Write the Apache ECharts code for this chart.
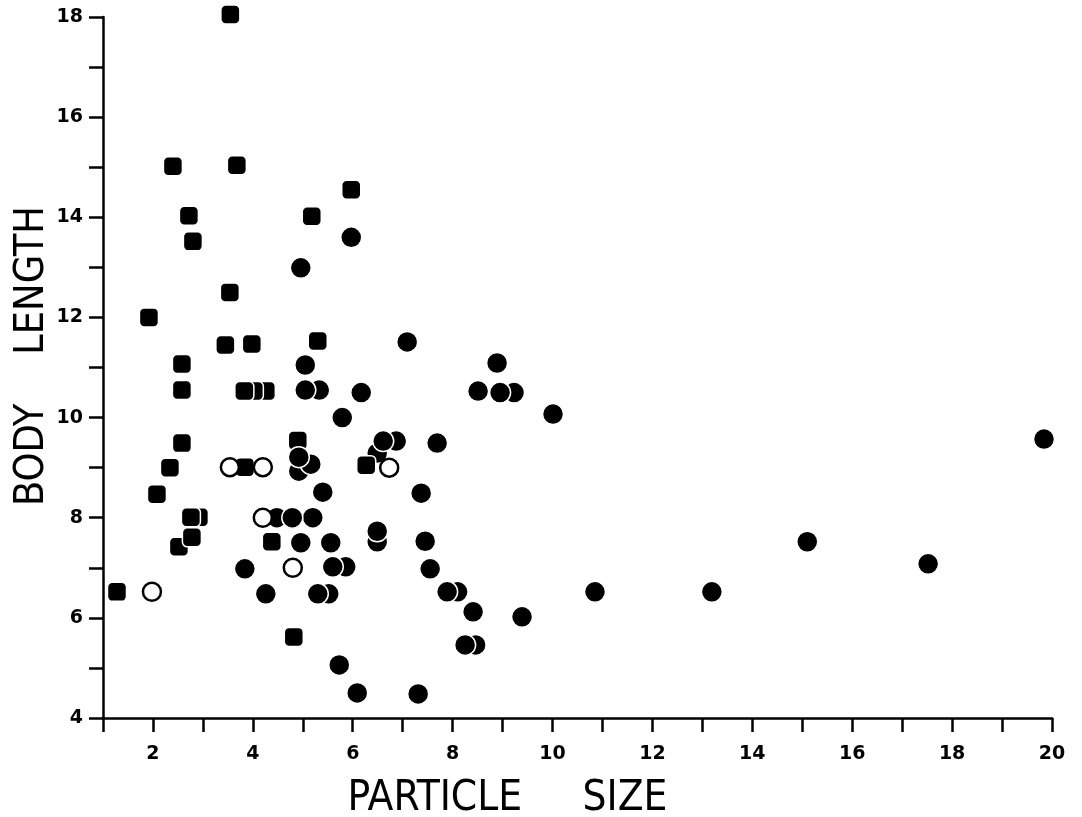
<!DOCTYPE html>
<html><head><meta charset="utf-8">
<script src="https://cdn.jsdelivr.net/npm/echarts@6/dist/echarts.min.js"></script>
<style>html,body{margin:0;padding:0;background:#fff}#c{width:1082px;height:817px}</style>
</head><body><div id="c"></div>
<script>
// [particle size, body length]
const filledSquares = [[3.55,18.05],[2.4,15.02],[3.68,15.04],[2.72,14.03],[2.8,13.52],[5.18,14.02],[5.97,14.55],[3.54,12.5],[1.92,12.0],[3.45,11.45],[3.98,11.47],[5.3,11.53],[2.58,11.07],[2.58,10.55],[3.83,10.53],[2.58,9.49],[2.34,9.0],[2.08,8.47],[2.76,8.01],[2.78,7.61],[4.38,7.52],[1.28,6.52],[4.82,5.62],[4.9,9.54],[6.27,9.05]];
const hiddenSquares = [[4.26,10.53],[4.02,10.53],[3.84,9.01],[2.92,8.01],[2.52,7.42]];
const filledCircles = [[5.97,13.6],[4.96,12.99],[7.09,11.51],[8.89,11.09],[5.05,11.05],[5.05,10.55],[6.17,10.5],[8.51,10.53],[8.95,10.5],[10.01,10.07],[5.79,10.0],[6.61,9.53],[7.69,9.49],[4.92,9.21],[5.4,8.51],[7.37,8.49],[4.79,8.0],[4.96,7.5],[5.56,7.5],[6.49,7.73],[7.45,7.53],[3.84,6.98],[5.6,7.02],[7.55,6.98],[4.26,6.48],[5.3,6.48],[7.89,6.52],[8.41,6.12],[8.25,5.46],[9.39,6.02],[5.73,5.06],[6.09,4.5],[7.31,4.48],[10.85,6.52],[13.19,6.52],[15.1,7.52],[17.52,7.08],[19.84,9.57]];
const hiddenCircles = [[5.33,10.55],[9.23,10.5],[6.87,9.53],[4.92,8.93],[5.16,9.07],[6.49,9.29],[4.48,8.0],[5.2,8.0],[6.49,7.52],[5.86,7.02],[5.52,6.48],[8.1,6.52],[8.46,5.46]];
const openCircles = [[3.54,9.01],[4.2,9.01],[6.73,9.0],[4.2,8.0],[4.8,7.0],[1.98,6.52]];
const xName = 'PARTICLE\u2003\u2002\u200ASIZE';
const yName = 'BODY\u2003\u2004LENGTH';

const chart = echarts.init(document.getElementById('c'), null, {renderer:'canvas'});
const tickFont = {fontFamily:'"DejaVu Sans", sans-serif', fontWeight:'bold', fontSize:19, color:'#000'};
const nameFamily = '"DejaVu Sans Condensed","Liberation Sans Narrow",sans-serif';
const filledStyle = {color:'#000', opacity:1, borderColor:'#fff', borderWidth:1.5};
chart.setOption({
  animation:false,
  backgroundColor:'#fff',
  grid:{left:103, right:30, top:17, bottom:99, containLabel:false, outerBoundsMode:'none'},
  xAxis:{type:'value', min:1, max:20, interval:1, name:xName, nameLocation:'middle', nameGap:60, nameMoveOverlap:false,
    nameTextStyle:{fontFamily:nameFamily, fontSize:42, color:'#000', padding:[0,140,0,0]},
    axisLine:{onZero:false, lineStyle:{color:'#000', width:2.5}},
    axisTick:{inside:false, length:14, lineStyle:{color:'#000', width:2.5}},
    axisLabel:Object.assign({margin:27, formatter:v => (v % 2 === 0 ? String(v) : '')}, tickFont),
    splitLine:{show:false}},
  yAxis:{type:'value', min:4, max:18, interval:1, name:yName, nameLocation:'middle', nameGap:50, nameMoveOverlap:false,
    nameTextStyle:{fontFamily:nameFamily, fontSize:41, color:'#000', padding:[0,0,0,23]},
    axisLine:{onZero:false, lineStyle:{color:'#000', width:2.5}},
    axisTick:{inside:false, length:14, lineStyle:{color:'#000', width:2.5}},
    axisLabel:Object.assign({margin:20, formatter:v => (v % 2 === 0 ? String(v) : '')}, tickFont),
    splitLine:{show:false}},
  series:[
    {type:'scatter', clip:false, data:hiddenCircles, symbol:'circle', symbolSize:21, itemStyle:filledStyle, z:2},
    {type:'scatter', clip:false, data:hiddenSquares, symbol:'roundRect', symbolSize:19, itemStyle:filledStyle, z:2},
    {type:'scatter', clip:false, data:filledSquares, symbol:'roundRect', symbolSize:19, itemStyle:filledStyle, z:3},
    {type:'scatter', clip:false, data:filledCircles, symbol:'circle', symbolSize:21, itemStyle:filledStyle, z:4},
    {type:'scatter', clip:false, data:openCircles, symbol:'circle', symbolSize:18, itemStyle:{color:'#fff', opacity:1, borderColor:'#000', borderWidth:2.5}, z:5}
  ]
});
</script></body></html>
